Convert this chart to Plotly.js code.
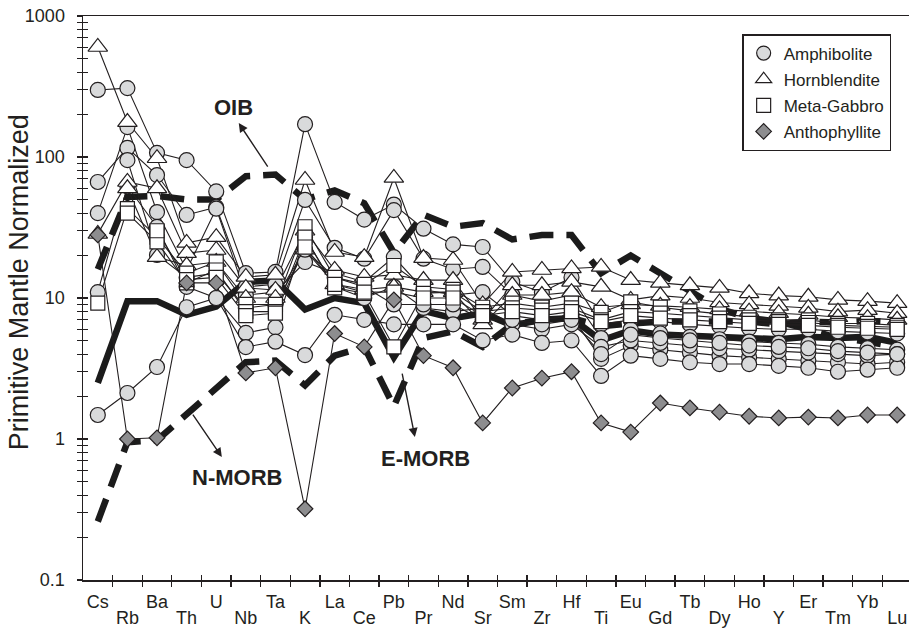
<!DOCTYPE html>
<html>
<head>
<meta charset="utf-8">
<script src="https://cdn.plot.ly/plotly-3.0.1.min.js"></script>
<style>
  html, body { margin: 0; padding: 0; background: #ffffff; }
  #chart { width: 909px; height: 633px; }
</style>
</head>
<body>
<div id="chart"></div>
<script>
// Elements in spider-diagram order
const elements = ['Cs','Rb','Ba','Th','U','Nb','Ta','K','La','Ce','Pb','Pr','Nd','Sr','Sm','Zr','Hf','Ti','Eu','Gd','Tb','Dy','Ho','Y','Er','Tm','Yb','Lu'];

// Reference compositions (primitive-mantle normalized)
const oib   = [16, 52, 53, 50, 50, 73, 75, 50, 58, 47, 21, 39, 32, 34, 26, 28, 28, 15, 20, 15, 11, 8.4, 7.2, 6.8, 6.0, 5.2, 4.9, 4.5];
const eMorb = [2.5, 9.5, 9.5, 7.6, 8.7, 13, 13.3, 8.3, 10, 9.2, 3.8, 8.1, 7.2, 7.8, 6.4, 7.0, 7.2, 5.0, 5.9, 5.5, 5.4, 5.3, 5.3, 5.1, 5.3, 5.2, 5.3, 4.8];
const nMorb = [0.26, 0.95, 0.98, 1.5, 2.3, 3.5, 3.6, 2.4, 3.9, 4.5, 1.7, 5.2, 5.8, 4.5, 6.5, 7.0, 7.2, 6.3, 6.6, 6.8, 6.8, 6.75, 6.8, 6.5, 6.8, 6.7, 6.9, 6.7];

// Amphibolite samples
const amph1 = [299, 308, 107, 95, 57, 15, 15.3, 171, 48, 36, 46, 31, 24, 23, 13, 11, 14, 6.5, 7, 6.8, 6.5, 6.3, 6.1, 6.0, 6.0, 5.8, 5.7, 5.6];
const amph2 = [66.5, 116, 74.5, 38.8, 44, 12, 12.5, 49.6, 22.7, 19, 42, 19, 16, 16.6, 10.5, 9.5, 10.5, 5.2, 6, 5.6, 5.3, 5.1, 4.9, 4.8, 4.7, 4.5, 4.4, 4.3];
const amph3 = [40, 163, 40.7, 15.8, 43, 10.5, 11, 18, 15, 13, 19.5, 11.5, 10.5, 11, 7.5, 7, 7.5, 3.7, 4.6, 4.3, 4.1, 3.9, 3.8, 3.7, 3.6, 3.5, 3.4, 3.5];
const amph4 = [11, 62, 31.9, 12, 10, 5.65, 6.2, 27, 12, 10, 12, 8.5, 8, 8.5, 6.5, 6, 6.5, 4.5, 5, 4.8, 4.6, 4.4, 4.3, 4.2, 4.1, 4.0, 3.9, 4.0];
const amph5 = [1.48, 2.12, 3.24, 8.6, 10, 4.49, 4.9, 3.94, 7.6, 7, 6.5, 6.5, 6.5, 5, 5.5, 4.8, 5, 2.8, 3.9, 3.7, 3.5, 3.4, 3.4, 3.3, 3.2, 3.0, 3.1, 3.2];
const amph6 = [null, 95, 20.2, 14, 15, 8.5, 9, 22, 14, 12, 9, 9, 9, 7, 7, 6.5, 7, 4, 5.5, 5.2, 5, 4.8, 4.6, 4.5, 4.4, 4.2, 4.1, 4.0];

// Hornblendite samples
const hbl1 = [603, 177, 98, 24.6, 27, 14.1, 14.6, 68.7, 21.2, 19.5, 71, 19.2, 18.6, 9, 15.3, 15.8, 16.2, 16.6, 13.4, 12.8, 12.3, 11.8, 10.8, 10.4, 10.2, 9.7, 9.5, 9.2];
const hbl2 = [28.5, 66.5, 60, 20.8, 21.9, 11.8, 11.4, 30, 15.8, 14.1, 14.6, 13.4, 13.4, 7, 12.3, 12.3, 13, 12, 9.7, 10.4, 10, 9.3, 9, 8.8, 8.5, 8, 8.2, 7.8];
const hbl3 = [null, 60, 19.5, 17, 18, 10, 10, 22, 12.5, 11.5, 12, 11, 11, 6.5, 10.5, 10.5, 11, 8.6, 9, 8.8, 8.6, 8.3, 8, 7.8, 7.6, 7.3, 7.2, 7.0];

// Meta-gabbro samples
const gab1 = [9.2, 43, 27, 15, 18, 9, 9, 32, 14, 12.5, 17, 12, 11.5, 8.6, 9.2, 8.6, 9.2, 7.9, 9.4, 8.6, 8.1, 7.7, 7.3, 7.0, 7.0, 6.6, 6.6, 6.4];
const gab2 = [null, 40, 25, 12.8, 15.8, 8, 8, 27, 11.8, 10.8, 4.5, 10.8, 11, 8, 8.5, 8.2, 8.5, 7, 8, 7.8, 7.5, 7.2, 7, 6.8, 6.7, 6.4, 6.3, 6.2];
const gab3 = [null, null, 30, 13.5, 14, 7.5, 7.8, 23, 12.5, 11, 11, 10, 10, 7.5, 8, 7.5, 8, 6.8, 7.5, 7.2, 7, 6.8, 6.6, 6.5, 6.4, 6.2, 6.1, 6.0];

// Anthophyllite sample
const anth1 = [28, 1.0, 1.02, 12.8, 12.8, 2.94, 3.2, 0.32, 5.6, 4.5, 9.7, 3.9, 3.2, 1.3, 2.3, 2.7, 3.0, 1.3, 1.12, 1.8, 1.66, 1.55, 1.45, 1.41, 1.43, 1.41, 1.48, 1.48];

// Axis labels
const yTickVals = [0.1, 1, 10, 100, 1000];
const yTickText = ['0.1', '1', '10', '100', '1000'];

const INK = '#231f20';
const FONT = 'Liberation Sans, Arial, Helvetica, sans-serif';
const xs = elements.map((_, i) => i);

const groups = [
  { name: 'Amphibolite',   samples: [amph1, amph2, amph3, amph4, amph5, amph6], symbol: 'circle',      size: 15, fill: '#d9dadb' },
  { name: 'Hornblendite',  samples: [hbl1, hbl2, hbl3],                         symbol: 'triangle-up', size: 17, fill: '#ffffff' },
  { name: 'Meta-Gabbro',   samples: [gab1, gab2, gab3],                         symbol: 'square',      size: 14, fill: '#ffffff' },
  { name: 'Anthophyllite', samples: [anth1],                                    symbol: 'diamond',     size: 12, fill: '#8d8d8f' }
];

const traces = [];

// Reference curves (thick)
[[oib, 'dash'], [nMorb, 'dash'], [eMorb, 'solid']].forEach(([vals, style]) => {
  traces.push({
    x: xs, y: vals, mode: 'lines', showlegend: false, hoverinfo: 'skip',
    line: { color: '#1b1b1b', width: 6.5, dash: style === 'dash' ? '24px,13px' : 'solid' }
  });
});

// Thin sample lines
groups.forEach(g => g.samples.forEach(s => {
  traces.push({
    x: xs, y: s, mode: 'lines', showlegend: false, hoverinfo: 'skip',
    connectgaps: false, line: { color: INK, width: 1.1 }
  });
}));

// Sample markers on top
groups.forEach(g => g.samples.forEach(s => {
  traces.push({
    x: xs, y: s, mode: 'markers', showlegend: false,
    marker: { symbol: g.symbol, size: g.size, color: g.fill, line: { color: INK, width: 1.2 } }
  });
}));

// Legend entries
groups.forEach((g, i) => {
  traces.push({
    x: [null], y: [null], mode: 'markers', name: g.name, legendgroup: 'g' + i,
    marker: { symbol: g.symbol, size: Math.min(g.size, 14), color: g.fill, line: { color: INK, width: 1.2 } }
  });
});

// Carrier traces for the tick-only / label-only overlay axes
traces.push({ x: [null], y: [null], xaxis: 'x2', yaxis: 'y2', showlegend: false, hoverinfo: 'skip', mode: 'markers' });
traces.push({ x: [null], y: [null], xaxis: 'x3', yaxis: 'y', showlegend: false, hoverinfo: 'skip', mode: 'markers' });
traces.push({ x: [null], y: [null], xaxis: 'x4', yaxis: 'y', showlegend: false, hoverinfo: 'skip', mode: 'markers' });

const xRange = [-0.5, 27.4];
const yRange = [-1, 3];
const bounds = xs.map(i => i + 0.5);
const upperIdx = xs.filter(i => i % 2 === 0);
const lowerIdx = xs.filter(i => i % 2 === 1);
const minorVals = [];
for (let d = -1; d < 3; d++) for (let m = 2; m <= 9; m++) minorVals.push(m * Math.pow(10, d));

const tickStyle = { tickcolor: INK, tickwidth: 1.3, ticklen: 5 };
const labelAxis = (idx, standoff) => ({
  overlaying: 'x', anchor: 'y', range: xRange, tickmode: 'array',
  tickvals: idx, ticktext: idx.map(i => elements[i]),
  ticks: '', showline: false, showgrid: false, zeroline: false, side: 'bottom',
  ticklabelstandoff: standoff, tickfont: { family: FONT, size: 18, color: INK }
});

const layout = {
  width: 909, height: 633,
  margin: { l: 83, r: 0, t: 16, b: 53 },
  paper_bgcolor: '#ffffff', plot_bgcolor: '#ffffff',
  font: { family: FONT, color: INK, size: 18 },
  showlegend: true,
  legend: {
    x: 0.798, y: 0.968, xanchor: 'left', yanchor: 'top',
    bgcolor: '#ffffff', bordercolor: INK, borderwidth: 1.5,
    font: { family: FONT, size: 17, color: INK },
    traceorder: 'grouped', tracegroupgap: 1
  },
  xaxis: Object.assign({
    range: xRange, tickmode: 'array', tickvals: bounds, ticktext: bounds.map(() => ''),
    ticks: 'outside', showline: true, linecolor: INK, linewidth: 1.5, mirror: true,
    showgrid: false, zeroline: false
  }, tickStyle),
  xaxis2: Object.assign({
    overlaying: 'x', anchor: 'y2', range: xRange, tickmode: 'array', tickvals: bounds,
    ticks: 'inside', showticklabels: false, showline: false, showgrid: false, zeroline: false
  }, tickStyle),
  xaxis3: labelAxis(upperIdx, 9),
  xaxis4: labelAxis(lowerIdx, 25),
  yaxis: Object.assign({
    type: 'log', range: yRange, tickmode: 'array', tickvals: yTickVals, ticktext: yTickText,
    ticks: 'outside', showline: true, linecolor: INK, linewidth: 1.5, mirror: false,
    showgrid: false, zeroline: false, ticklabelstandoff: 8,
    tickfont: { family: FONT, size: 18, color: INK },
    minor: { tickvals: minorVals, ticks: 'outside', ticklen: 5, tickcolor: INK, tickwidth: 1.1, showgrid: false }
  }, tickStyle),
  yaxis2: Object.assign({
    type: 'log', overlaying: 'y', anchor: 'x2', side: 'left', range: yRange,
    tickmode: 'array', tickvals: yTickVals, ticks: 'inside', showticklabels: false,
    showline: false, showgrid: false, zeroline: false,
    minor: { tickvals: minorVals, ticks: 'inside', ticklen: 5, tickcolor: INK, tickwidth: 1.1, showgrid: false }
  }, tickStyle),
  annotations: [
    // axis title
    { xref: 'paper', yref: 'paper', x: -0.078, y: 0.527, xanchor: 'center', yanchor: 'middle',
      text: 'Primitive Mantle Normalized', textangle: -90, showarrow: false,
      font: { family: FONT, size: 27, color: INK } },
    // curve labels
    { x: 4.59, y: 2.348, text: '<b>OIB</b>', showarrow: false, font: { family: FONT, size: 22, color: INK } },
    { x: 4.70, y: -0.270, text: '<b>N-MORB</b>', showarrow: false, font: { family: FONT, size: 22, color: INK } },
    { x: 11.08, y: -0.135, text: '<b>E-MORB</b>', showarrow: false, font: { family: FONT, size: 22, color: INK } },
    // pointer arrows (head at x,y; tail offset in pixels)
    { x: 4.76, y: 2.241, ax: 30, ay: 45, text: '', showarrow: true, arrowhead: 2, arrowsize: 1.3, arrowwidth: 1.4, arrowcolor: INK },
    { x: 4.19, y: -0.128, ax: -30, ay: -44, text: '', showarrow: true, arrowhead: 2, arrowsize: 1.3, arrowwidth: 1.4, arrowcolor: INK },
    { x: 10.71, y: 0.014, ax: -13, ay: -65, text: '', showarrow: true, arrowhead: 2, arrowsize: 1.3, arrowwidth: 1.4, arrowcolor: INK }
  ]
};

Plotly.newPlot('chart', traces, layout, { displayModeBar: false, staticPlot: true });
</script>
</body>
</html>
